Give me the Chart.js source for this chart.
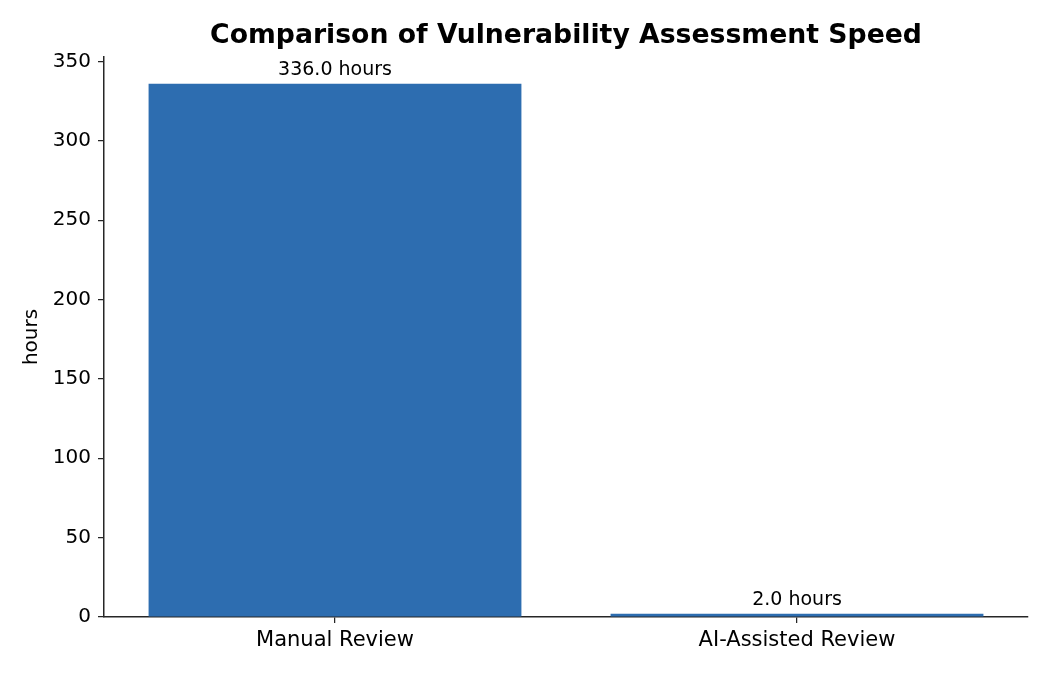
<!DOCTYPE html>
<html>
<head>
<meta charset="utf-8">
<script src="https://cdn.jsdelivr.net/npm/chart.js@4.4.0/dist/chart.umd.min.js"></script>
<style>
  html, body { margin: 0; padding: 0; background: #fff; }
  #wrap { width: 1050px; height: 675px; }
</style>
</head>
<body>
<div id="wrap"><canvas id="myChart" width="1050" height="675"></canvas></div>
<script>
// categories and values
var methods = ["Manual Review", "AI-Assisted Review"];
var hours = [336.0, 2.0];
var yTicks = [0, 50, 100, 150, 200, 250, 300, 350];
var chartTitle = "Comparison of Vulnerability Assessment Speed";

var barColor = "#2d6db0";
var axisColor = "#262626";

Chart.defaults.font.family = "'DejaVu Sans', sans-serif";
Chart.defaults.color = "#000";

// value labels above each bar + title centred over the axes (matplotlib style)
var barLabels = {
    id: "barLabels",
    afterDatasetsDraw: function (chart) {
        var ctx = chart.ctx;
        var meta = chart.getDatasetMeta(0);
        var area = chart.chartArea;
        ctx.save();
        ctx.font = "19px 'DejaVu Sans'";
        ctx.fillStyle = "#000";
        ctx.textAlign = "center";
        ctx.textBaseline = "alphabetic";
        meta.data.forEach(function (bar, i) {
            ctx.fillText(hours[i].toFixed(1) + " hours", bar.x, bar.y - 9);
        });
        ctx.font = "bold 26.7px 'DejaVu Sans'";
        ctx.fillText(chartTitle, (area.left + area.right) / 2, 43);
        ctx.restore();
    }
};

var ctx = document.getElementById("myChart");

var myChart = new Chart(ctx, {
    type: "bar",
    data: {
        labels: methods,
        datasets: [
            {
                data: hours,
                backgroundColor: barColor,
                borderWidth: 0,
                categoryPercentage: 1.0,
                barPercentage: 0.807
            }
        ]
    },
    options: {
        responsive: false,
        animation: false,
        devicePixelRatio: 1,
        layout: { padding: { left: 0, right: 22, top: 57, bottom: 0 } },
        plugins: {
            legend: { display: false },
            tooltip: { enabled: false },
            title: { display: false }
        },
        scales: {
            x: {
                grid: {
                    display: true,
                    offset: false,
                    drawOnChartArea: false,
                    drawTicks: true,
                    tickLength: 6,
                    color: axisColor,
                    lineWidth: 1.25
                },
                border: { display: true, color: axisColor, width: 1.5 },
                ticks: { font: { size: 21 }, color: "#000", padding: 5 },
                afterFit: function (scale) { scale.height = 58; }
            },
            y: {
                min: 0,
                max: 352.8,
                afterBuildTicks: function (scale) {
                    scale.ticks = yTicks.map(function (v) { return { value: v }; });
                },
                grid: {
                    display: true,
                    drawOnChartArea: false,
                    drawTicks: true,
                    tickLength: 6,
                    color: axisColor,
                    lineWidth: 1.25
                },
                border: { display: true, color: axisColor, width: 1.5 },
                ticks: { font: { size: 20 }, color: "#000", padding: 7 },
                title: {
                    display: true,
                    text: "hours",
                    font: { size: 20 },
                    color: "#000",
                    padding: { top: 20, bottom: 0 }
                },
                afterFit: function (scale) { scale.width = 104; }
            }
        }
    },
    plugins: [barLabels]
});
</script>
</body>
</html>
